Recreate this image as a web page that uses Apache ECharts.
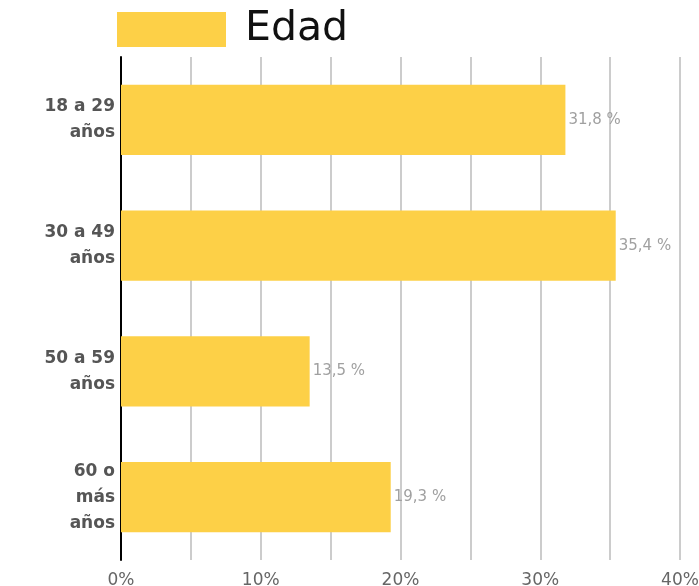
<!DOCTYPE html>
<html><head><meta charset="utf-8">
<script src="https://cdn.jsdelivr.net/npm/echarts@6/dist/echarts.min.js"></script>
<style>html,body{margin:0;padding:0;background:#fff}#c{width:699px;height:586px}</style>
</head><body><div id="c"></div>
<script>
const categories = ['18 a 29\naños', '30 a 49\naños', '50 a 59\naños', '60 o\nmás\naños'];
const values = [31.8, 35.4, 13.5, 19.3];
const seriesName = 'Edad';

const chart = echarts.init(document.getElementById('c'), null, {renderer: 'canvas'});
chart.setOption({
  animation: false,
  legend: {
    left: 117, top: 9, padding: 0, itemWidth: 109, itemHeight: 35, icon: 'rect',
    textStyle: {fontSize: 41, color: '#111', fontFamily: 'DejaVu Sans', padding: [4,0,0,14]},
    data: [seriesName]
  },
  grid: {left: 121, right: 19, top: 57, bottom: 26, containLabel: false, outerBoundsMode: 'none'},
  xAxis: {
    type: 'value', min: 0, max: 40, interval: 5,
    axisLine: {show: false}, axisTick: {show: false},
    splitLine: {show: true, lineStyle: {color: '#cccccc', width: 2}},
    axisLabel: {
      formatter: v => (v % 10 === 0 ? v + '%' : ''),
      fontSize: 17, color: '#666', margin: 12, fontFamily: 'DejaVu Sans'
    }
  },
  yAxis: {
    type: 'category', data: categories, inverse: true,
    axisLine: {show: true, lineStyle: {color: '#000', width: 2}},
    axisTick: {show: false},
    axisLabel: {fontSize: 17, fontWeight: 'bold', color: '#555', lineHeight: 26, align: 'right', margin: 6, fontFamily: 'DejaVu Sans'}
  },
  series: [{
    name: seriesName, type: 'bar', data: values, barCategoryGap: '44%',
    itemStyle: {color: '#fdd047'},
    label: {
      show: true, position: 'right', distance: 3, color: '#a0a0a0', fontSize: 15, fontFamily: 'DejaVu Sans',
      formatter: p => p.value.toFixed(1).replace('.', ',') + ' %'
    }
  }]
});
</script></body></html>
